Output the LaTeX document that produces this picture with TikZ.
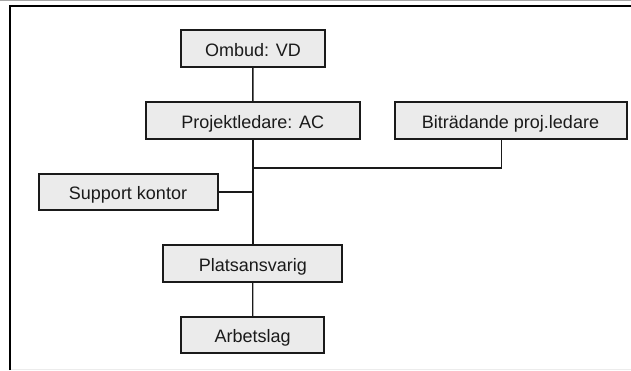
\documentclass[tikz,border=0pt]{standalone}
\usepackage{fontspec}
\setmainfont{Liberation Sans}
\definecolor{boxfill}{HTML}{EBEBEB}
\definecolor{ink}{HTML}{1A1A1A}
\begin{document}
\begin{tikzpicture}[x=1pt,y=-1pt,
  orgbox/.style={draw=ink,line width=2pt,fill=boxfill,inner sep=0pt,
    text=ink,font=\fontsize{18}{21}\selectfont,text height=15.5pt,text depth=0pt,
    minimum height=36.5pt},
  link/.style={draw=ink,line width=1.4pt}]
  \useasboundingbox (0,0) rectangle (631,370);
  \fill[white] (0,0) rectangle (631,370);
  % outer frame
  \draw[gray!70,line width=1pt] (0,0.5) -- (631,0.5);
  \draw[gray!15,line width=1pt] (11,369) -- (631,369);
  \draw[black,line width=2.8pt] (10,370) -- (10,6) -- (631,6);

  % boxes
  \node[orgbox,minimum width=144pt] (omb) at (253,48.7) {Ombud: VD};
  \node[orgbox,minimum width=214pt] (proj) at (252.8,120.3) {Projektledare: AC};
  \node[orgbox,minimum width=232pt] (bitr) at (510.5,120.7) {Biträdande proj.ledare};
  \node[orgbox,minimum width=179pt] (sup) at (128,192) {Support kontor};
  \node[orgbox,minimum width=179pt] (plats) at (252.8,263.3) {Platsansvarig};
  \node[orgbox,minimum width=143.5pt] (arb) at (252.7,335) {Arbetslag};

  % connectors
  \coordinate (junc) at (proj.south |- 0,168);
  \coordinate (bitrfoot) at ([xshift=-8.8pt]bitr.south);
  \draw[link] (omb) -- (proj);
  \draw[link] (proj.south) -- (plats.north);
  \draw[link] (bitrfoot) |- (junc);
  \draw[link] (sup.east) -- (sup.east -| proj.south);
  \draw[link] (plats) -- (arb);
\end{tikzpicture}
\end{document}
